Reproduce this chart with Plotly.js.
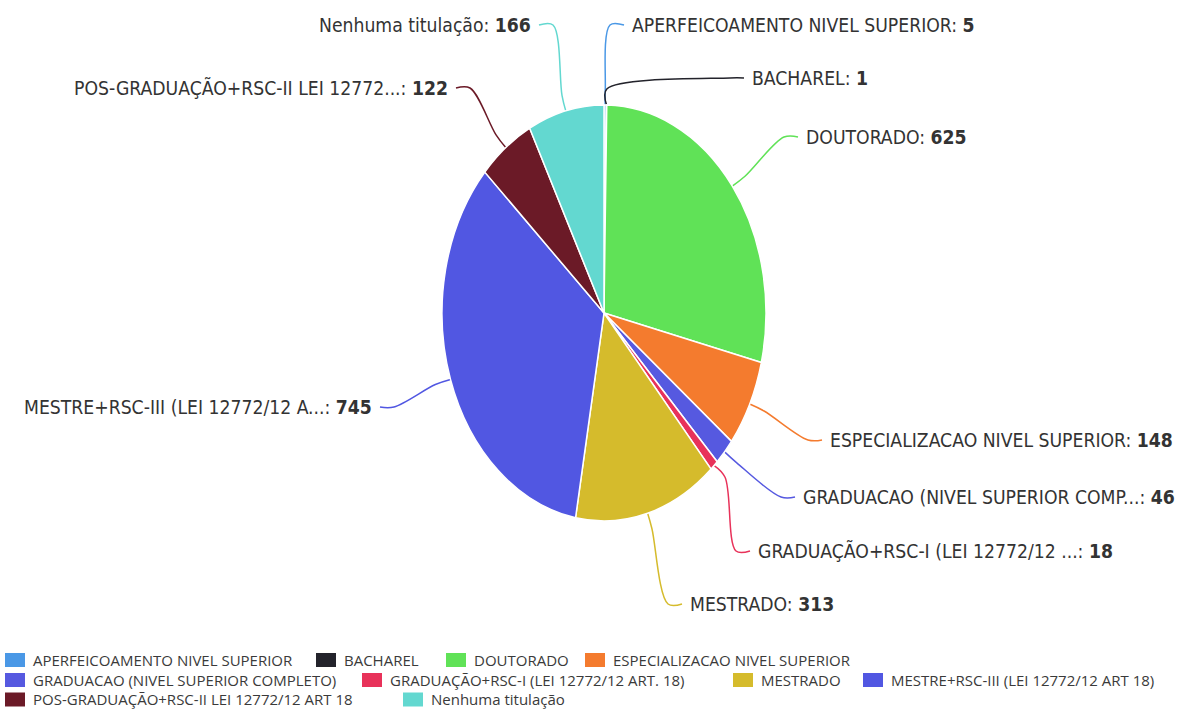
<!DOCTYPE html>
<html><head><meta charset="utf-8">
<script src="https://cdn.plot.ly/plotly-3.0.1.min.js"></script>
<style>html,body{margin:0;padding:0;background:#fff}#chart{width:1181px;height:709px}</style>
</head><body><div id="chart"></div>
<script>
// ---- data ----
const categories = [
  "APERFEICOAMENTO NIVEL SUPERIOR",
  "BACHAREL",
  "DOUTORADO",
  "ESPECIALIZACAO NIVEL SUPERIOR",
  "GRADUACAO (NIVEL SUPERIOR COMPLETO)",
  "GRADUAÇÃO+RSC-I (LEI 12772/12 ART. 18)",
  "MESTRADO",
  "MESTRE+RSC-III (LEI 12772/12 ART 18)",
  "POS-GRADUAÇÃO+RSC-II LEI 12772/12 ART 18",
  "Nenhuma titulação"
];
const values = [5, 1, 625, 148, 46, 18, 313, 745, 122, 166];
const shortLabels = [
  "APERFEICOAMENTO NIVEL SUPERIOR",
  "BACHAREL",
  "DOUTORADO",
  "ESPECIALIZACAO NIVEL SUPERIOR",
  "GRADUACAO (NIVEL SUPERIOR COMP...",
  "GRADUAÇÃO+RSC-I (LEI 12772/12 ...",
  "MESTRADO",
  "MESTRE+RSC-III (LEI 12772/12 A...",
  "POS-GRADUAÇÃO+RSC-II LEI 12772...",
  "Nenhuma titulação"
];
const colors = ["#4a98e6","#23232b","#60e257","#f47b2e","#5659e0","#e8325a","#d5bb2c","#5157e2","#6b1a27","#63d8d0"];

// ---- layout settings (not data) ----
const W = 1181, H = 709;
const CX = 604, CY = 313, RX = 162, RY = 208;
// data-label anchor (x, y, side) in page pixels
const labelPos = [
  [630, 25, 1], [750, 78, 1], [804, 137, 1], [828, 440, 1], [801, 497, 1],
  [756, 551, 1], [688, 604, 1], [374, 407, -1], [450, 88, -1], [533, 25, -1]
];
const labelFont = {family: "DejaVu Sans Condensed, DejaVu Sans", size: 19.2, color: "#333"};
// legend item placement (symbol left x, row center y) in page pixels
const legendPos = [
  [5, 660], [316, 660], [446, 660], [585, 660],
  [5, 680], [362, 680], [733, 680], [863, 680],
  [5, 699.5], [403, 699.5]
];
const legendFont = {family: "Open Sans", size: 15, color: "#3a3a3a"};

const total = values.reduce((a, b) => a + b, 0);
const traces = [];
traces.push({
  type: "pie",
  labels: categories,
  values: values,
  sort: false,
  direction: "clockwise",
  rotation: 0,
  textinfo: "none",
  hoverinfo: "label+value",
  marker: {colors: colors, line: {color: "#ffffff", width: 1.5}},
  domain: {x: [(CX - RY) / W, (CX + RY) / W], y: [(H - (CY + RY)) / H, (H - (CY - RY)) / H]},
  showlegend: false
});

const annotations = [];
const shapes = [];
let cum = 0;
values.forEach((v, i) => {
  const mid = (cum + v / 2) / total * 2 * Math.PI;
  cum += v;
  const s = Math.sin(mid), c = Math.cos(mid);
  const ex = CX + RX * s, ey = CY - RY * c;
  const px = CX + (RX + 16) * s, py = CY - (RY + 16) * c;
  const [lx, ly, side] = labelPos[i];
  const endX = lx - side * 6;
  const x2 = endX - side * 14;
  traces.push({
    type: "scatter", mode: "lines", xaxis: "x", yaxis: "y",
    x: [ex, px, x2, endX], y: [ey, py, ly, ly],
    line: {color: colors[i], width: 1.5, shape: "spline", smoothing: 1},
    hoverinfo: "skip", showlegend: false
  });
  annotations.push({
    xref: "x", yref: "y", x: lx, y: ly,
    xanchor: side > 0 ? "left" : "right", yanchor: "middle",
    showarrow: false,
    text: shortLabels[i] + ": <b>" + values[i] + "</b>",
    font: labelFont
  });
  // legend entry
  const [gx, gy] = legendPos[i];
  shapes.push({
    type: "rect", xref: "x", yref: "y",
    x0: gx, x1: gx + 20, y0: gy - 7, y1: gy + 7,
    fillcolor: colors[i], line: {width: 0}
  });
  annotations.push({
    xref: "x", yref: "y", x: gx + 26, y: gy - 0.5,
    xanchor: "left", yanchor: "middle", showarrow: false,
    text: categories[i], font: legendFont
  });
});

const layout = {
  width: W, height: H,
  margin: {l: 0, r: 0, t: 0, b: 0},
  paper_bgcolor: "#fff", plot_bgcolor: "rgba(0,0,0,0)",
  xaxis: {range: [0, W], visible: false, fixedrange: true, domain: [0, 1]},
  yaxis: {range: [H, 0], visible: false, fixedrange: true, domain: [0, 1]},
  annotations: annotations,
  shapes: shapes,
  showlegend: false
};

Plotly.newPlot("chart", traces, layout, {displayModeBar: false, staticPlot: true}).then(gd => {
  const t = `translate(${CX},${CY}) scale(${RX / RY},1) translate(${-CX},${-CY})`;
  gd.querySelectorAll(".pielayer > g").forEach(g => g.setAttribute("transform", t));
  gd.querySelectorAll(".pielayer path").forEach(p => p.setAttribute("vector-effect", "non-scaling-stroke"));
});
</script>
</body></html>
